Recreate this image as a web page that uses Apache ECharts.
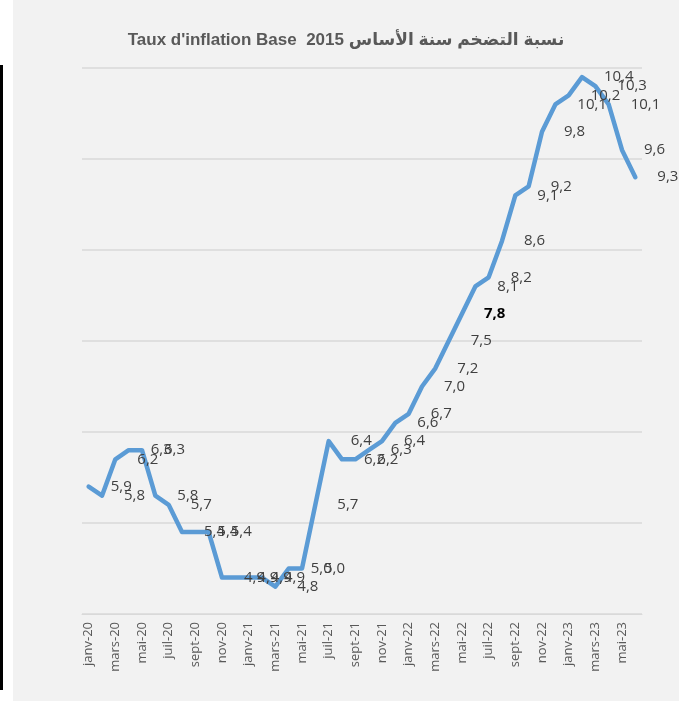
<!DOCTYPE html>
<html>
<head>
<meta charset="utf-8">
<script src="https://cdn.jsdelivr.net/npm/echarts@6/dist/echarts.min.js"></script>
<style>
  body { margin: 0; background: #fff; }
  #wrap { position: relative; width: 679px; height: 701px; overflow: hidden; }
  #bar { position: absolute; left: 0; top: 65px; width: 3px; height: 625px; background: #000; }
  #main { position: absolute; left: 13px; top: 0; width: 666px; height: 701px; }
</style>
</head>
<body>
<div id="wrap">
  <div id="bar"></div>
  <div id="main"></div>
</div>
<script>
// mois de janv-20 a juin-23
var months = ['janv', 'févr', 'mars', 'avr', 'mai', 'juin', 'juil', 'août', 'sept', 'oct', 'nov', 'déc'];
var years = ['20', '21', '22', '23'];
var categories = [];
for (var y = 0; y < years.length; y++) {
  for (var m = 0; m < 12; m++) {
    if (y == 3 && m > 5) break;
    categories.push(months[m] + '-' + years[y]);
  }
}

var inflation2020 = [5.9, 5.8, 6.2, 6.3, 6.3, 5.8, 5.7, 5.4, 5.4, 5.4, 4.9, 4.9];
var inflation2021 = [4.9, 4.9, 4.8, 5.0, 5.0, 5.7, 6.4, 6.2, 6.2, 6.3, 6.4, 6.6];
var inflation2022 = [6.7, 7.0, 7.2, 7.5, 7.8, 8.1, 8.2, 8.6, 9.1, 9.2, 9.8, 10.1];
var inflation2023 = [10.2, 10.4, 10.3, 10.1, 9.6, 9.3];
var values = inflation2020.concat(inflation2021, inflation2022, inflation2023);

var titleText = "Taux d'inflation Base  2015 نسبة التضخم سنة الأساس";

var chart = echarts.init(document.getElementById('main'));

var seriesData = values.map(function (v, i) {
  var item = { value: v };
  // mai-22 en gras dans l'original
  if (categories[i] == 'mai-22') {
    item.label = { fontWeight: 'bold', color: '#000' };
  }
  return item;
});

chart.setOption({
  backgroundColor: '#f2f2f2',
  animation: false,
  title: {
    text: titleText,
    left: 'center',
    top: 32,
    padding: 0,
    textStyle: {
      fontFamily: 'Liberation Sans, DejaVu Sans',
      fontSize: 17,
      fontWeight: 'bold',
      color: '#595959'
    }
  },
  grid: {
    left: 69,
    right: 37,
    top: 68,
    bottom: 87
  },
  xAxis: {
    type: 'category',
    data: categories,
    boundaryGap: true,
    axisLine: { lineStyle: { color: '#d9d9d9', width: 1 } },
    axisTick: { interval: 1, length: 5, lineStyle: { color: '#d9d9d9' } },
    axisLabel: {
      interval: 1,
      rotate: 90,
      margin: 8,
      fontFamily: 'Open Sans, Noto Sans',
      fontSize: 13,
      color: '#595959'
    }
  },
  yAxis: {
    type: 'value',
    min: 4.5,
    max: 10.5,
    interval: 1,
    axisLine: { show: false },
    axisTick: { show: false },
    axisLabel: { show: false },
    splitLine: { lineStyle: { color: '#d9d9d9', width: 1.5 } }
  },
  series: [
    {
      type: 'line',
      data: seriesData,
      showSymbol: true,
      symbol: 'circle',
      symbolSize: 0,
      lineStyle: { color: '#5b9bd5', width: 4.5, cap: 'round', join: 'round' },
      itemStyle: { color: '#5b9bd5' },
      label: {
        show: true,
        position: 'right',
        distance: 22,
        fontFamily: 'Open Sans, Noto Sans',
        fontSize: 15,
        color: '#404040',
        formatter: function (p) {
          return p.value.toFixed(1).replace('.', ',');
        }
      }
    }
  ]
});
</script>
</body>
</html>
